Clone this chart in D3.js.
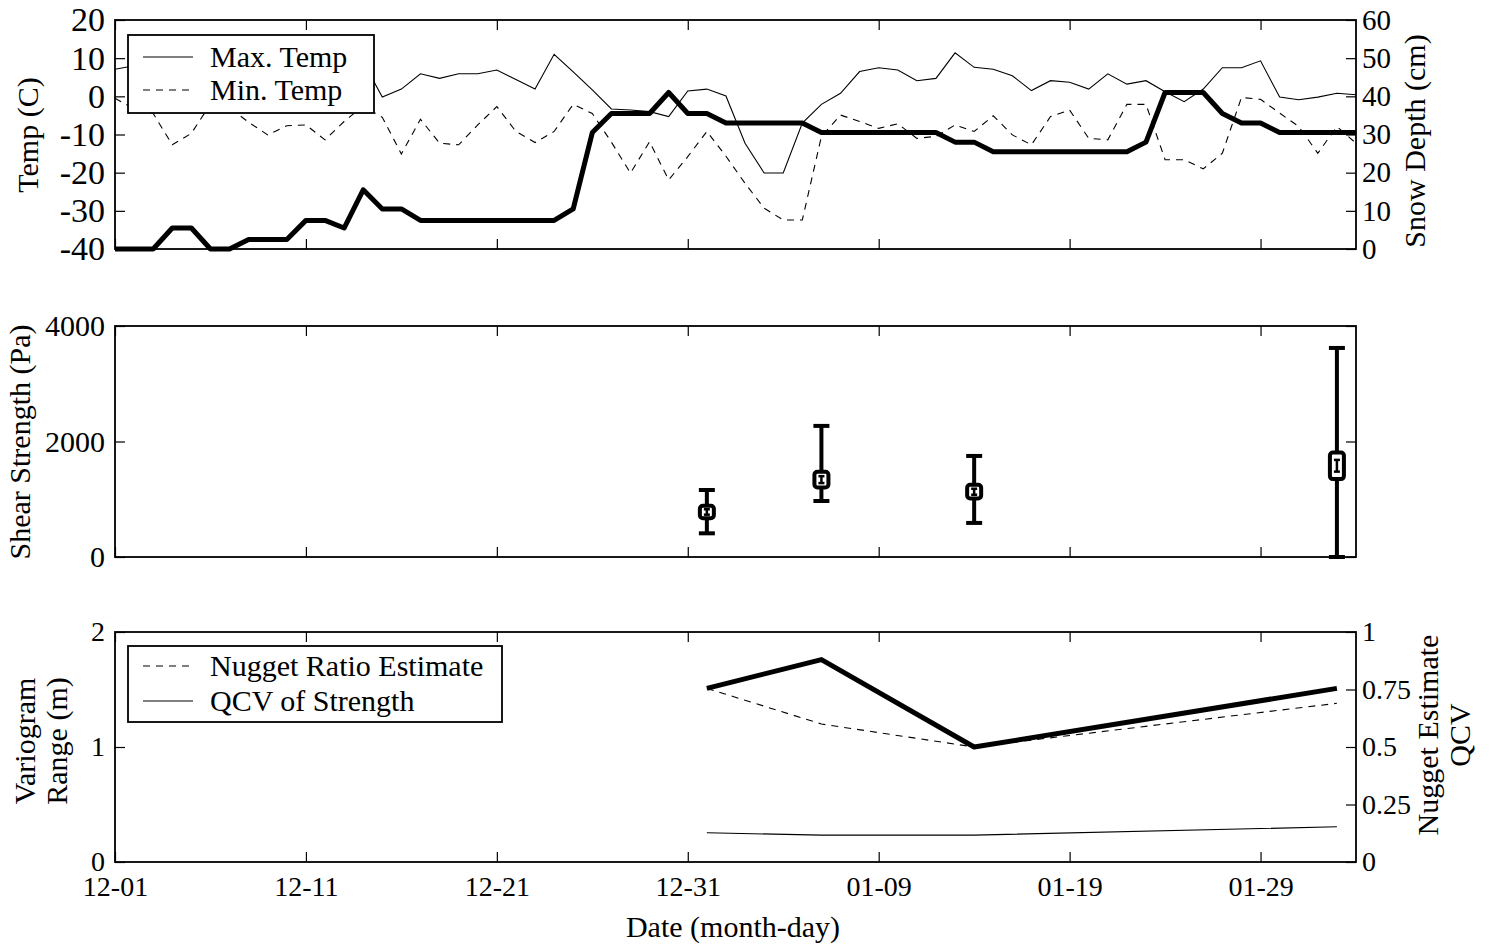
<!DOCTYPE html>
<html>
<head>
<meta charset="utf-8">
<script src="https://cdn.jsdelivr.net/npm/d3@7"></script>
<style>
  html, body { margin: 0; padding: 0; background: #fff; }
  svg { display: block; }
  text { font-family: "Liberation Serif", "Times New Roman", serif; font-size: 30px; fill: #000; }
</style>
</head>
<body>
<svg id="chart" width="1490" height="944"></svg>
<script>
// Daily air temperature (C) and snow depth (cm), day 0 = Dec 1
const maxTemp = [7.1, 8, 5, 3.5, 6, 8.5, 7, 4.5, 6, 8, 5.5, 4.5, 7, 9, -0.2, 1.9, 5.9, 4.7, 5.9, 5.9,
  6.9, 4.4, 1.9, 11.0, 6.4, 1.7, -3.3, -3.6, -4.0, -5.3, 1.4, 1.9, 0.1, -12.3, -20.1, -20.1, -7.0, -2.1, 0.8, 6.5,
  7.5, 6.9, 4.1, 4.7, 11.4, 7.6, 7.1, 5.4, 1.5, 4.1, 3.7, 1.9, 5.9, 3.2, 4.1, 1.2, -1.4, 1.9, 7.5, 7.5,
  9.3, -0.2, -0.9, -0.2, 0.8, 0.4];
const minTemp = [-0.5, -3.3, -4.5, -12.7, -9.7, -2, -3, -6.8, -10.1, -7.7, -7.5, -11.4, -6.6, -2.5, -5.5, -15.1, -6.0, -12.3, -12.7, -7.5,
  -2.7, -9.2, -12.1, -9.2, -2.1, -4.5, -12, -20.1, -11.9, -21.9, -15.8, -9.2, -15.7, -22.8, -29.3, -32.4, -32.4, -10.5, -4.9, -6.6,
  -8.4, -7.2, -11, -10.5, -7.5, -9.2, -5.1, -10.1, -12.7, -5.3, -3.6, -11, -11.4, -2.1, -2.1, -16.6, -16.6, -19, -14.9, -0.3,
  -0.8, -4.4, -7.9, -14.9, -7.9, -12.3];
const snowDepth = [0, 0, 0, 5.5, 5.5, 0, 0, 2.5, 2.5, 2.5, 7.5, 7.5, 5.5, 15.5, 10.5, 10.5, 7.5, 7.5, 7.5, 7.5,
  7.5, 7.5, 7.5, 7.5, 10.5, 30.5, 35.5, 35.5, 35.5, 41, 35.5, 35.5, 33, 33, 33, 33, 33, 30.5, 30.5, 30.5,
  30.5, 30.5, 30.5, 30.5, 28, 28, 25.5, 25.5, 25.5, 25.5, 25.5, 25.5, 25.5, 25.5, 28, 41, 41, 41, 35.5, 33,
  33, 30.5, 30.5, 30.5, 30.5, 30.5];

// Date axis
const dateTickDays = [0, 10, 20, 30, 40, 50, 60];
const dateTickLabels = ["12-01", "12-11", "12-21", "12-31", "01-09", "01-19", "01-29"];

// Field test days: shear strength summary (Pa)
const testDays = [31, 37, 45, 64];
const shearMin = [410, 970, 590, 0];
const shearQ1 = [672, 1205, 1014, 1349];
const shearMid = [780, 1340, 1130, 1580];
const shearQ3 = [886, 1476, 1250, 1811];
const shearMax = [1160, 2270, 1750, 3620];

// Spatial statistics on test days
const variogramRange = [1.51, 1.76, 1.0, 1.51];
const nuggetRatio = [0.755, 0.60, 0.50, 0.69];
const qcvStrength = [0.127, 0.117, 0.117, 0.153];

const tempTicks = [-40, -30, -20, -10, 0, 10, 20];
const snowTicks = [0, 10, 20, 30, 40, 50, 60];
const shearTicks = [0, 2000, 4000];
const rangeTicks = [0, 1, 2];
const ratioTicks = [0, 0.25, 0.5, 0.75, 1];

const svg = d3.select("#chart");
const x = d3.scaleLinear().domain([0, 65]).range([115, 1356]);
const P = [{ top: 20, bottom: 249 }, { top: 326, bottom: 557 }, { top: 632, bottom: 862 }];

const yTemp = d3.scaleLinear().domain([-40, 20]).range([P[0].bottom, P[0].top]);
const ySnow = d3.scaleLinear().domain([0, 60]).range([P[0].bottom, P[0].top]);
const yShear = d3.scaleLinear().domain([0, 4000]).range([P[1].bottom, P[1].top]);
const yRange = d3.scaleLinear().domain([0, 2]).range([P[2].bottom, P[2].top]);
const yRatio = d3.scaleLinear().domain([0, 1]).range([P[2].bottom, P[2].top]);

const TICK = -10;

function cleanAxis(g, size) {
  g.select(".domain").remove();
  g.selectAll(".tick line").attr("stroke", "#000").attr("stroke-width", 1.2);
  if (size) g.selectAll(".tick text").style("font-size", size + "px");
}

function dateAxes(p, withLabels) {
  svg.append("g").attr("transform", `translate(0,${p.bottom})`)
    .call(d3.axisBottom(x).tickValues(dateTickDays).tickSize(TICK).tickPadding(14)
      .tickFormat((d, i) => withLabels ? dateTickLabels[i] : ""))
    .call(cleanAxis, 28);
  svg.append("g").attr("transform", `translate(0,${p.top})`)
    .call(d3.axisTop(x).tickValues(dateTickDays).tickSize(TICK).tickFormat(""))
    .call(cleanAxis);
}

function leftAxis(scale, ticks, fmt, size) {
  svg.append("g").attr("transform", `translate(${x.range()[0]},0)`)
    .call(d3.axisLeft(scale).tickValues(ticks).tickSize(TICK).tickPadding(10).tickFormat(fmt))
    .call(cleanAxis, size);
}
function rightAxis(scale, ticks, fmt, size) {
  svg.append("g").attr("transform", `translate(${x.range()[1]},0)`)
    .call(d3.axisRight(scale).tickValues(ticks).tickSize(TICK).tickPadding(6).tickFormat(fmt))
    .call(cleanAxis, size);
}
function frame(p) {
  svg.append("rect")
    .attr("x", x.range()[0]).attr("y", p.top)
    .attr("width", x.range()[1] - x.range()[0]).attr("height", p.bottom - p.top)
    .attr("fill", "none").attr("stroke", "#000").attr("stroke-width", 1.8);
}
function vLabel(lines, cx, cy, gap) {
  lines.forEach((t, i) => {
    svg.append("text")
      .attr("transform", `translate(${cx + i * gap},${cy}) rotate(-90)`)
      .attr("text-anchor", "middle").text(t);
  });
}
function legend(box, items) {
  svg.append("rect").attr("x", box.x).attr("y", box.y).attr("width", box.w).attr("height", box.h)
    .attr("fill", "#fff").attr("stroke", "#000").attr("stroke-width", 1.8);
  items.forEach((it, i) => {
    const cy = box.y + box.first + i * box.step;
    svg.append("line").attr("x1", box.x + 15).attr("x2", box.x + 65).attr("y1", cy).attr("y2", cy)
      .attr("stroke", "#000").attr("stroke-width", 1.2).attr("stroke-dasharray", it.dash || null);
    svg.append("text").attr("x", box.x + 82).attr("y", cy).attr("dy", "0.33em").text(it.label);
  });
}

const plain = d => String(d);
const dayOf = (d, i) => x(i);

// ---------- Panel 1: temperature and snow depth ----------
svg.append("path").datum(maxTemp)
  .attr("d", d3.line().x(dayOf).y(d => yTemp(d)))
  .attr("fill", "none").attr("stroke", "#000").attr("stroke-width", 1.1);
svg.append("path").datum(minTemp)
  .attr("d", d3.line().x(dayOf).y(d => yTemp(d)))
  .attr("fill", "none").attr("stroke", "#000").attr("stroke-width", 1.1).attr("stroke-dasharray", "7,6");
svg.append("path").datum(snowDepth)
  .attr("d", d3.line().x(dayOf).y(d => ySnow(d)))
  .attr("fill", "none").attr("stroke", "#000").attr("stroke-width", 5)
  .attr("stroke-linejoin", "round");

frame(P[0]);
dateAxes(P[0], false);
leftAxis(yTemp, tempTicks, plain, 34);
rightAxis(ySnow, snowTicks, plain, 29);
legend({ x: 128, y: 35, w: 246, h: 78, first: 22, step: 33 },
  [{ label: "Max. Temp" }, { label: "Min. Temp", dash: "7,6" }]);
vLabel(["Temp (C)"], 38, 135, 0);
vLabel(["Snow Depth (cm)"], 1425, 141, 0);

// ---------- Panel 2: shear strength ----------
const tests = testDays.map((d, i) => ({
  day: d, lo: shearMin[i], q1: shearQ1[i], mid: shearMid[i], q3: shearQ3[i], hi: shearMax[i]
}));
const tg = svg.append("g").selectAll("g").data(tests).join("g")
  .attr("transform", d => `translate(${x(d.day)},0)`);
tg.append("line").attr("y1", d => yShear(d.lo)).attr("y2", d => yShear(d.hi))
  .attr("stroke", "#000").attr("stroke-width", 4);
tg.selectAll("line.cap").data(d => [d.lo, d.hi]).join("line").attr("class", "cap")
  .attr("x1", -8).attr("x2", 8).attr("y1", v => yShear(v)).attr("y2", v => yShear(v))
  .attr("stroke", "#000").attr("stroke-width", 4);
tg.append("rect").attr("x", -7).attr("width", 14)
  .attr("y", d => yShear(d.q3)).attr("height", d => yShear(d.q1) - yShear(d.q3))
  .attr("rx", 3).attr("fill", "#fff").attr("stroke", "#000").attr("stroke-width", 4);
// median marker inside the box
const halfMark = d => (d.q3 - d.q1) * 0.22;
tg.append("line")
  .attr("y1", d => yShear(d.mid + halfMark(d))).attr("y2", d => yShear(d.mid - halfMark(d)))
  .attr("stroke", "#000").attr("stroke-width", 2.5);
tg.selectAll("line.mcap").data(d => [d.mid + halfMark(d), d.mid - halfMark(d)]).join("line")
  .attr("class", "mcap").attr("x1", -3).attr("x2", 3)
  .attr("y1", v => yShear(v)).attr("y2", v => yShear(v))
  .attr("stroke", "#000").attr("stroke-width", 2.5);

frame(P[1]);
dateAxes(P[1], false);
leftAxis(yShear, shearTicks, plain, 30);
rightAxis(yShear, shearTicks, "");
vLabel(["Shear Strength (Pa)"], 30, 442, 0);

// ---------- Panel 3: variogram range, nugget ratio and QCV ----------
svg.append("path").datum(nuggetRatio)
  .attr("d", d3.line().x((d, i) => x(testDays[i])).y(d => yRatio(d)))
  .attr("fill", "none").attr("stroke", "#000").attr("stroke-width", 1.1).attr("stroke-dasharray", "7,6");
svg.append("path").datum(qcvStrength)
  .attr("d", d3.line().x((d, i) => x(testDays[i])).y(d => yRatio(d)))
  .attr("fill", "none").attr("stroke", "#000").attr("stroke-width", 1.1);
svg.append("path").datum(variogramRange)
  .attr("d", d3.line().x((d, i) => x(testDays[i])).y(d => yRange(d)))
  .attr("fill", "none").attr("stroke", "#000").attr("stroke-width", 5).attr("stroke-linejoin", "round");

frame(P[2]);
dateAxes(P[2], true);
leftAxis(yRange, rangeTicks, plain, 28);
rightAxis(yRatio, ratioTicks, plain, 28);
legend({ x: 128, y: 646, w: 374, h: 76, first: 20, step: 35 },
  [{ label: "Nugget Ratio Estimate", dash: "7,6" }, { label: "QCV of Strength" }]);
vLabel(["Variogram", "Range (m)"], 35, 741, 32);
vLabel(["Nugget Estimate", "QCV"], 1438, 735, 32);

svg.append("text").attr("x", 733).attr("y", 937).attr("text-anchor", "middle").text("Date (month-day)");
</script>
</body>
</html>
